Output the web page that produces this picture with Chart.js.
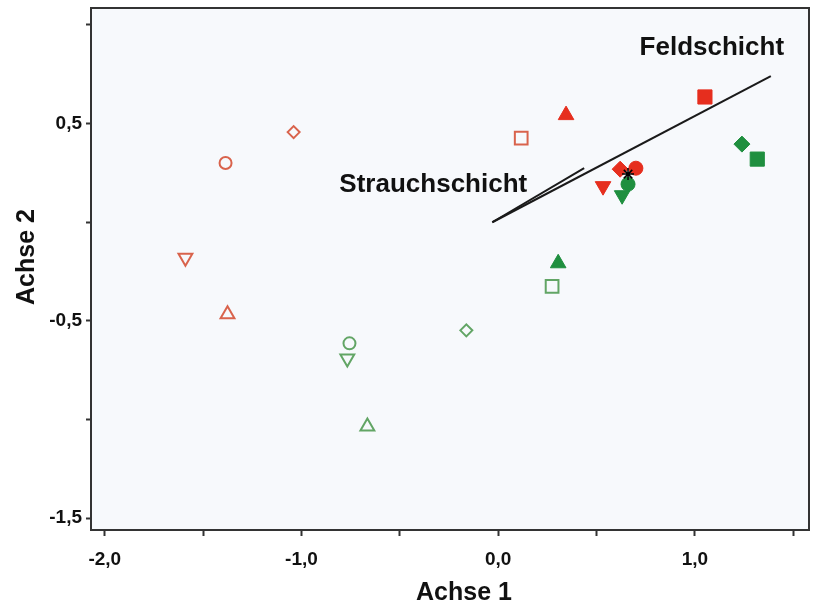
<!DOCTYPE html>
<html>
<head>
<meta charset="utf-8">
<script src="https://cdn.jsdelivr.net/npm/chart.js@4/dist/chart.umd.min.js"></script>
<style>
  html, body { margin: 0; padding: 0; background: #ffffff; }
  #wrap { width: 813px; height: 606px; }
</style>
</head>
<body>
<div id="wrap"><canvas id="ordination"></canvas></div>
<script>
// point order in every group: circle, diamond, triangle down, triangle up, square
const redOpenX = [-1.386, -1.04, -1.59, -1.376, 0.117];
const redOpenY = [0.30, 0.457, -0.18, -0.467, 0.426];
const redFilledX = [0.70, 0.62, 0.533, 0.345, 1.051];
const redFilledY = [0.274, 0.269, 0.183, 0.543, 0.635];
const greenFilledX = [0.660, 1.239, 0.630, 0.305, 1.317];
const greenFilledY = [0.193, 0.396, 0.137, -0.208, 0.320];
const greenOpenX = [-0.756, -0.162, -0.767, -0.665, 0.274];
const greenOpenY = [-0.614, -0.548, -0.691, -1.035, -0.325];

// centroid (asterisk)
const starX = [0.660];
const starY = [0.244];

// environmental vectors, from origin to tip
const vectorNames = ['Feldschicht', 'Strauchschicht'];
const vectorStartX = [-0.03, -0.03];
const vectorStartY = [0.0, 0.0];
const vectorEndX = [1.386, 0.437];
const vectorEndY = [0.741, 0.274];

const xTicks = [-2.0, -1.5, -1.0, -0.5, 0.0, 0.5, 1.0, 1.5];
const xTickLabels = ['-2,0', '', '-1,0', '', '0,0', '', '1,0', ''];
const yTicks = [-1.5, -1.0, -0.5, 0.0, 0.5, 1.0];
const yTickLabels = ['-1,5', '', '-0,5', '', '0,5', ''];

const shapes = ['circle', 'rectRot', 'triangle', 'triangle', 'rect'];
const turns = [0, 0, 180, 0, 0];
const openSizes = [6, 6, 8, 8, 9];
const filledSizes = [7, 8, 9, 9, 10];

const FONT = "'Liberation Sans', Arial, Helvetica, sans-serif";

function toPoints(xs, ys) {
    return xs.map((x, i) => ({ x: x, y: ys[i] }));
}

function markerSet(xs, ys, color, filled) {
    return {
        data: toPoints(xs, ys),
        pointStyle: shapes,
        rotation: turns,
        pointRadius: filled ? filledSizes : openSizes,
        backgroundColor: filled ? color : 'rgba(0,0,0,0)',
        borderColor: color,
        borderWidth: filled ? 1 : 2,
        showLine: false
    };
}

function vectorSet(i) {
    return {
        data: [{ x: vectorStartX[i], y: vectorStartY[i] }, { x: vectorEndX[i], y: vectorEndY[i] }],
        showLine: true,
        borderColor: '#1a1a1a',
        borderWidth: 2,
        pointRadius: 0
    };
}

// no extra room for the outer tick labels, the frame is placed by hand
function noScalePadding(s) {
    s.paddingTop = 0;
    s.paddingBottom = 0;
    s.paddingLeft = 0;
    s.paddingRight = 0;
}

// background, frame, labels and axis titles
const decor = {
    id: 'decor',
    beforeDraw(chart) {
        const a = chart.chartArea, ctx = chart.ctx;
        ctx.save();
        ctx.fillStyle = '#f7f9fc';
        ctx.fillRect(a.left, a.top, a.right - a.left, a.bottom - a.top);
        ctx.restore();
    },
    afterDraw(chart) {
        const a = chart.chartArea, ctx = chart.ctx;
        const xs = chart.scales.x, ys = chart.scales.y;
        ctx.save();
        ctx.strokeStyle = '#333333';
        ctx.lineWidth = 2;
        ctx.strokeRect(a.left, a.top, a.right - a.left, a.bottom - a.top);

        ctx.fillStyle = '#111111';
        ctx.font = 'bold 26px ' + FONT;
        ctx.textAlign = 'center';
        ctx.textBaseline = 'alphabetic';
        ctx.fillText(vectorNames[0], xs.getPixelForValue(1.086), ys.getPixelForValue(0.848));
        ctx.fillText(vectorNames[1], xs.getPixelForValue(-0.33), ys.getPixelForValue(0.152));

        ctx.font = 'bold 25px ' + FONT;
        ctx.fillText('Achse 1', 464, 600);
        ctx.translate(34, 257);
        ctx.rotate(-Math.PI / 2);
        ctx.fillText('Achse 2', 0, 0);
        ctx.restore();
    }
};

new Chart(document.getElementById('ordination'), {
    type: 'scatter',
    data: {
        datasets: [
            {
                data: toPoints(starX, starY),
                pointStyle: 'star',
                pointRadius: 6,
                borderColor: '#000000',
                borderWidth: 1.5
            },
            markerSet(greenFilledX, greenFilledY, '#1f8f3f', true),
            markerSet(redFilledX, redFilledY, '#e62e1e', true),
            markerSet(redOpenX, redOpenY, '#d9634c', false),
            markerSet(greenOpenX, greenOpenY, '#62a565', false),
            vectorSet(0),
            vectorSet(1)
        ]
    },
    options: {
        responsive: true,
        maintainAspectRatio: false,
        animation: false,
        layout: { autoPadding: false, padding: { top: 8, right: 4, bottom: 0, left: 0 } },
        plugins: {
            legend: { display: false },
            tooltip: { enabled: false }
        },
        scales: {
            x: {
                type: 'linear',
                min: -2.07,
                max: 1.58,
                afterBuildTicks: s => { s.ticks = xTicks.map(v => ({ value: v })); },
                afterFit: s => { s.height = 76; noScalePadding(s); },
                border: { display: false },
                grid: { drawOnChartArea: false, drawTicks: true, tickLength: 6, tickColor: '#333333', tickWidth: 2 },
                ticks: {
                    autoSkip: false,
                    maxRotation: 0,
                    padding: 12,
                    color: '#111111',
                    font: { family: FONT, size: 19, weight: 'bold' },
                    callback: (v, i) => xTickLabels[i]
                }
            },
            y: {
                type: 'linear',
                min: -1.56,
                max: 1.086,
                afterBuildTicks: s => { s.ticks = yTicks.map(v => ({ value: v })); },
                afterFit: s => { s.width = 91; noScalePadding(s); },
                border: { display: false },
                grid: { drawOnChartArea: false, drawTicks: true, tickLength: 5, tickColor: '#333333', tickWidth: 2 },
                ticks: {
                    autoSkip: false,
                    padding: 4,
                    color: '#111111',
                    font: { family: FONT, size: 19, weight: 'bold' },
                    callback: (v, i) => yTickLabels[i]
                }
            }
        }
    },
    plugins: [decor]
});
</script>
</body>
</html>
